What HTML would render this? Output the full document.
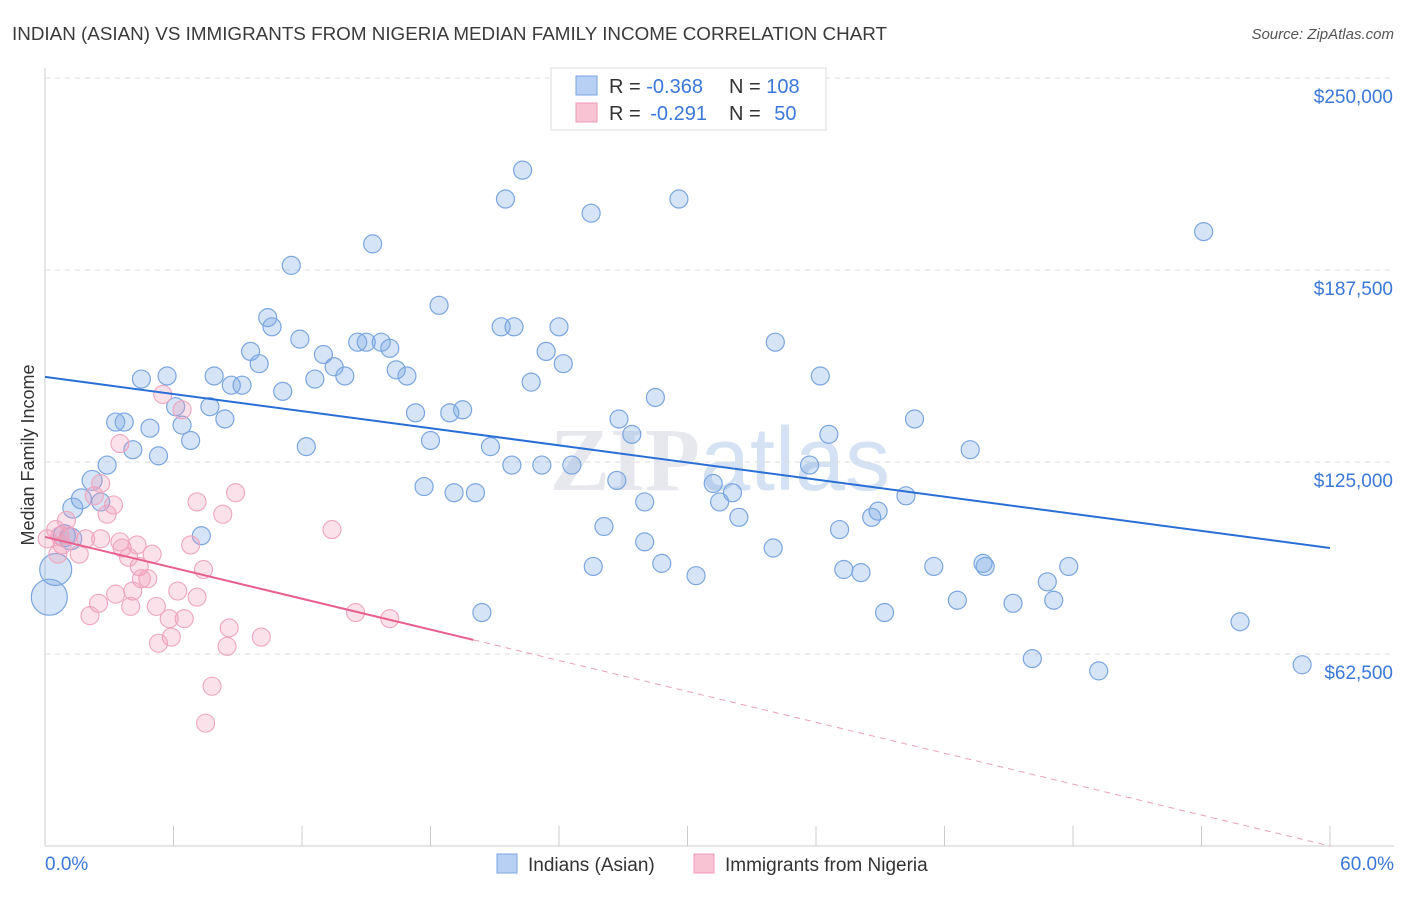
<!DOCTYPE html>
<html><head><meta charset="utf-8"><style>
body{margin:0;background:#fff;font-family:"Liberation Sans",sans-serif;}
</style></head><body>
<svg id="c" width="1406" height="892" xmlns="http://www.w3.org/2000/svg" style="font-family:'Liberation Sans',sans-serif">
<text x="12" y="40" font-size="18.5" fill="#3a3a3a" textLength="875" lengthAdjust="spacingAndGlyphs">INDIAN (ASIAN) VS IMMIGRANTS FROM NIGERIA MEDIAN FAMILY INCOME CORRELATION CHART</text>
<text x="1394" y="39" font-size="15" fill="#555" text-anchor="end" font-style="italic">Source: ZipAtlas.com</text>
<text x="720" y="490" font-size="90" fill="#e6e8ee" text-anchor="middle" font-family="Liberation Serif" font-weight="bold">ZIP<tspan fill="#d5e2f3" font-family="Liberation Sans" font-weight="normal">atlas</tspan></text>
<g id="grid"></g>
<g id="pts"></g>
<g id="lines"></g>
<text transform="translate(34,455) rotate(-90)" font-size="18" fill="#333" text-anchor="middle">Median Family Income</text>
<text x="45" y="870" font-size="19" fill="#3b78d8">0.0%</text>
<text x="1394" y="870" font-size="19" fill="#3b78d8" text-anchor="end">60.0%</text>
<g>
<rect x="551" y="68" width="275" height="62" fill="#fff" stroke="#ddd"/>
<rect x="576" y="76" width="21" height="19" fill="#b8d0f3" stroke="#7aa6e0"/>
<rect x="576" y="103" width="21" height="19" fill="#f8c4d4" stroke="#ee99b5"/>
<text x="609" y="93" font-size="20" fill="#333">R = <tspan fill="#3b78d8">-0.368</tspan></text>
<text x="729" y="93" font-size="20" fill="#333">N = <tspan fill="#3b78d8">108</tspan></text>
<text x="609" y="120" font-size="20" fill="#333">R = <tspan fill="#3b78d8" dx="4">-0.291</tspan></text>
<text x="729" y="120" font-size="20" fill="#333">N = <tspan fill="#3b78d8" dx="8">50</tspan></text>
</g>
<g>
<rect x="497" y="854" width="20" height="19" fill="#b8d0f3" stroke="#7aa6e0"/>
<text x="528" y="871" font-size="19" fill="#333">Indians (Asian)</text>
<text x="725" y="871" font-size="19" fill="#333">Immigrants from Nigeria</text>
<rect x="694" y="854" width="20" height="19" fill="#f8c4d4" stroke="#ee99b5"/>
</g>
</svg>
<script>
const yTicks=[62500,125000,187500,250000];
const yTickLabels=["$62,500","$125,000","$187,500","$250,000"];
const xTicks=[0,6,12,18,24,30,36,42,48,54,60];
const blueX=[54.1,22.3,21.5,25.5,29.6,15.3,11.5,18.4,10.4,10.6,11.9,21.3,21.9,24.0,14.6,15.0,15.7,16.1,9.6,13.0,23.4,24.2,34.1,10.0,13.5,14.0,16.4,16.9,12.6,7.9,8.7,9.2,5.7,4.5,11.1,22.7,36.2,6.1,7.7,17.3,18.9,19.5,28.5,8.4,3.3,3.7,4.9,6.4,6.8,4.1,5.3,2.9,12.2,18.0,26.8,27.4,20.8,36.6,40.6,43.2,23.2,24.6,21.8,35.7,2.2,1.7,1.3,2.6,17.7,19.1,20.1,26.7,28.0,31.2,31.5,32.1,32.4,38.9,38.6,40.2,37.1,26.1,7.3,28.0,34.0,28.8,25.6,30.4,37.3,38.1,41.5,43.8,43.9,47.8,46.8,47.1,42.6,45.2,39.2,20.4,55.8,46.1,49.2,58.7,0.5,0.2,0.9,1.2];
const blueY=[200,220,210.6,206,210.6,196,189,176,172,169,165,169,169,169,164,164,164,162,161,160,161,157,164,157,156,153,155,153,152,153,150,150,153,152,148,151,153,143,143,141,141,142,146,139,138,138,136,137,132,129,127,124,130,132,139,134,130,134,139,129,124,124,124,124,119,113,110,112,117,115,115,119,112,118,112,115,107,109,107,114,103,104,101,99,97,92,91,88,90,89,91,92,91,91,86,80,80,79,76,76,73,61,57,59,90,81,101,100];
const blueR=[9,9,9,9,9,9,9,9,9,9,9,9,9,9,9,9,9,9,9,9,9,9,9,9,9,9,9,9,9,9,9,9,9,9,9,9,9,9,9,9,9,9,9,9,9,9,9,9,9,9,9,9,9,9,9,9,9,9,9,9,9,9,9,9,10,10,10,9,9,9,9,9,9,9,9,9,9,9,9,9,9,9,9,9,9,9,9,9,9,9,9,9,9,9,9,9,9,9,9,9,9,9,9,9,16,18,11,11];
const pinkX=[2.6,0.5,0.8,1.1,1.6,1.9,2.3,2.9,3.2,2.6,3.5,3.6,4.3,5.0,3.9,4.4,4.8,4.5,4.1,5.2,4.0,3.3,2.5,2.1,6.2,5.8,6.5,7.1,7.4,6.8,8.3,7.1,8.9,5.5,6.4,3.5,8.6,10.1,5.9,5.3,8.5,7.8,7.5,13.4,14.5,16.1,0.6,0.1,1.0,0.7];
const pinkY=[100,103,98,101,95,100,114,108,111,118,99,97,98,95,94,91,87,87,83,78,78,82,79,75,83,74,74,81,90,98,108,112,115,147,142,131,71,68,68,66,65,52,40,103,76,74,95,100,106,101];
const blueTrend=[[0,152.7],[60,97]];
const pinkTrendSolid=[[0,100.6],[20,67.1]];
const pinkTrendDash=[[20,67.1],[60,0]];
const NS="http://www.w3.org/2000/svg";
const X0=45,X1=1330,Y0=846,PX=192/62.5;
function sx(v){return X0+(v/60)*(X1-X0);}
function sy(k){return Y0-k*PX;}
function mk(t,a,p){const e=document.createElementNS(NS,t);for(const k in a)e.setAttribute(k,a[k]);p.appendChild(e);return e;}
const grid=document.getElementById('grid');
let ax=mk('line',{x1:X0,y1:68,x2:X0,y2:Y0,stroke:'#ccc'},grid);


let bx=mk('line',{x1:X0,y1:Y0,x2:1394,y2:Y0,stroke:'#ccc'},grid);


yTicks.forEach((t,i)=>{const y=sy(t/1000);
 let g=mk('line',{x1:X0,y1:y,x2:1394,y2:y,stroke:'#ddd','stroke-dasharray':'5,5'},grid);
 
 
 let tx=mk('text',{x:1393,y:y+25,'font-size':19,fill:'#3b78d8','text-anchor':'end'},grid);tx.textContent=yTickLabels[i];
 
 
});
xTicks.forEach(t=>{const x=sx(t);
 let l=mk('line',{x1:x,y1:Y0,x2:x,y2:Y0-20,stroke:'#ccc'},grid);
 
 
});
const pts=document.getElementById('pts');
blueX.forEach((v,i)=>{let c=mk('circle',{cx:sx(v),cy:sy(blueY[i]),r:blueR[i],fill:'rgba(120,165,230,0.3)',stroke:'#7aa6e0','stroke-width':1.2},pts);
 
 });
pinkX.forEach((v,i)=>{let c=mk('circle',{cx:sx(v),cy:sy(pinkY[i]),r:9,fill:'rgba(240,150,180,0.28)',stroke:'#f0a5bd','stroke-width':1.1},pts);
 
 });
const ln=document.getElementById('lines');
let b=mk('line',{x1:sx(blueTrend[0][0]),y1:sy(blueTrend[0][1]),x2:sx(blueTrend[1][0]),y2:sy(blueTrend[1][1]),stroke:'#2a6fd6','stroke-width':2},ln);


let p=mk('line',{x1:sx(pinkTrendSolid[0][0]),y1:sy(pinkTrendSolid[0][1]),x2:sx(pinkTrendSolid[1][0]),y2:sy(pinkTrendSolid[1][1]),stroke:'#e8608f','stroke-width':2},ln);


let pd=mk('line',{x1:sx(pinkTrendDash[0][0]),y1:sy(pinkTrendDash[0][1]),x2:sx(pinkTrendDash[1][0]),y2:sy(pinkTrendDash[1][1]),stroke:'#eaa0b8','stroke-width':1,'stroke-dasharray':'6,5'},ln);


</script>
</body></html>
